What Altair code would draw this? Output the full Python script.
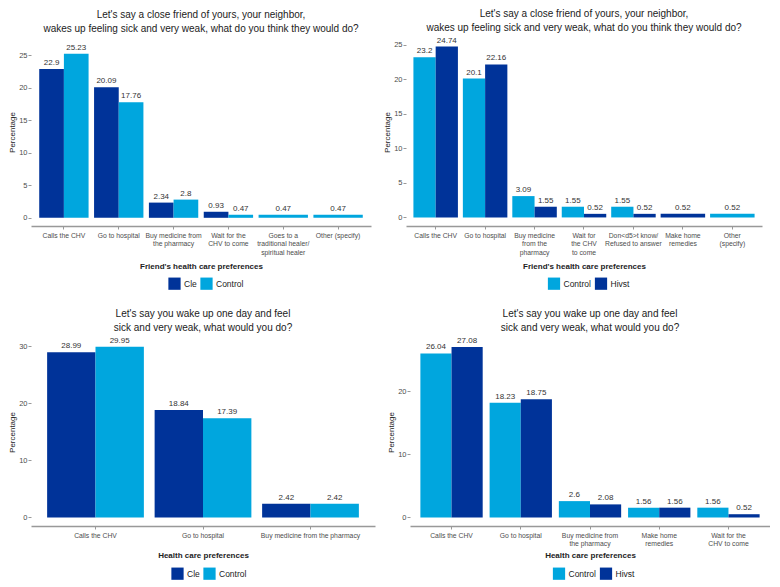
import altair as alt
import pandas as pd

DARK = "#003399"
LIGHT = "#00A6DE"
FONT = "Liberation Sans"

# ---- data ----
p1_title = ["Let's say a close friend of yours, your neighbor,",
            "wakes up feeling sick and very weak, what do you think they would do?"]
p1_categories = ["Calls the CHV", "Go to hospital", "Buy medicine from|the pharmacy",
                 "Wait for the|CHV to come", "Goes to a|traditional healer/|spiritual healer",
                 "Other (specify)"]
p1_groups = ["Cle", "Control"]
p1_cle = [22.9, 20.09, 2.34, 0.93, None, None]
p1_control = [25.23, 17.76, 2.8, 0.47, 0.47, 0.47]

p2_title = p1_title
p2_categories = ["Calls the CHV", "Go to hospital", "Buy medicine|from the|pharmacy",
                 "Wait for|the CHV|to come", "Don<d5>t know/|Refused to answer",
                 "Make home|remedies", "Other|(specify)"]
p2_groups = ["Control", "Hivst"]
p2_control = [23.2, 20.1, 3.09, 1.55, 1.55, None, 0.52]
p2_hivst = [24.74, 22.16, 1.55, 0.52, 0.52, 0.52, None]

p3_title = ["Let's say you wake up one day and feel", "sick and very weak, what would you do?"]
p3_categories = ["Calls the CHV", "Go to hospital", "Buy medicine from the pharmacy"]
p3_groups = ["Cle", "Control"]
p3_cle = [28.99, 18.84, 2.42]
p3_control = [29.95, 17.39, 2.42]

p4_title = p3_title
p4_categories = ["Calls the CHV", "Go to hospital", "Buy medicine from|the pharmacy",
                 "Make home|remedies", "Wait for the|CHV to come"]
p4_groups = ["Control", "Hivst"]
p4_control = [26.04, 18.23, 2.6, 1.56, 1.56]
p4_hivst = [27.08, 18.75, 2.08, 1.56, 0.52]


def make_frame(categories, groups):
    rows = []
    for i, cat in enumerate(categories):
        present = [(g, vals[i]) for g, vals in groups if vals[i] is not None]
        for g, v in present:
            rows.append({"cat": cat, "group": g, "value": v,
                         "paired": len(present) > 1, "label": f"{v:g}"})
    return pd.DataFrame(rows)


def panel(df, categories, group_order, colors, title, xtitle, ydomain, yticks,
          width, height, xtitle_pad, legend_x, legend_y):
    x = alt.X("cat:N", sort=categories,
              scale=alt.Scale(domain=categories, paddingInner=0.1, paddingOuter=0.15),
              axis=alt.Axis(title=xtitle, labelExpr="split(datum.label, '|')",
                            labelAngle=0, labelLimit=300, labelFontSize=6.8,
                            labelLineHeight=8.5, labelColor="#4d4d4d", labelPadding=3,
                            labelFont=FONT, tickColor="#999999", tickSize=3,
                            domainColor="#999999", domainWidth=1.6,
                            titleFont=FONT, titleFontSize=8, titleFontWeight="bold",
                            titleColor="#222222", titlePadding=xtitle_pad))
    y = alt.Y("value:Q",
              scale=alt.Scale(domain=ydomain, nice=False, zero=False),
              axis=alt.Axis(title="Percentage", values=yticks, domain=False, grid=False,
                            tickColor="#999999", tickSize=3, labelPadding=1,
                            labelFontSize=7.5, labelColor="#4d4d4d", labelFont=FONT,
                            titleFont=FONT, titleFontSize=8, titleFontWeight="normal",
                            titleColor="#222222", titlePadding=2))
    color = alt.Color("group:N", scale=alt.Scale(domain=group_order, range=colors),
                      legend=alt.Legend(orient="none", legendX=legend_x, legendY=legend_y,
                                        direction="horizontal", title=None,
                                        symbolType="square",
                                        symbolSize=150, symbolStrokeWidth=0,
                                        symbolOpacity=1, labelFont=FONT,
                                        labelFontSize=8.5, labelColor="#222222",
                                        columnPadding=3, labelOffset=3))
    xoff = alt.XOffset("group:N", sort=group_order,
                       scale=alt.Scale(domain=group_order, paddingInner=0, paddingOuter=0))
    base = alt.Chart(df)
    paired = base.transform_filter("datum.paired")
    single = base.transform_filter("!datum.paired")
    txt = dict(baseline="bottom", dy=-2, fontSize=8, font=FONT, color="#333333")
    bars_p = paired.mark_bar().encode(x=x, xOffset=xoff, y=y, y2=alt.datum(0), color=color)
    text_p = paired.mark_text(**txt).encode(x=x, xOffset=xoff, y=y, text="label:N")
    bars_s = single.mark_bar().encode(x=x, y=y, y2=alt.datum(0), color=color)
    text_s = single.mark_text(**txt).encode(x=x, y=y, text="label:N")
    return alt.layer(bars_p, text_p, bars_s, text_s).properties(
        width=width, height=height,
        title=alt.TitleParams(title, font=FONT, fontSize=10, fontWeight="normal",
                              color="#222222", lineHeight=14, anchor="middle", offset=4))


df1 = make_frame(p1_categories, [("Cle", p1_cle), ("Control", p1_control)])
df2 = make_frame(p2_categories, [("Control", p2_control), ("Hivst", p2_hivst)])
df3 = make_frame(p3_categories, [("Cle", p3_cle), ("Control", p3_control)])
df4 = make_frame(p4_categories, [("Control", p4_control), ("Hivst", p4_hivst)])

W1, W2, W3, W4 = 340, 356, 344, 360
c1 = panel(df1, p1_categories, p1_groups, [DARK, LIGHT], p1_title,
           "Friend's health care preferences", [-1.26, 27.66], [0, 5, 10, 15, 20, 25],
           W1, 188, 7, W1 / 2 - 33, 239)
c2 = panel(df2, p2_categories, p2_groups, [LIGHT, DARK], p2_title,
           "Friend's health care preferences", [-1.24, 25.98], [0, 5, 10, 15, 20, 25],
           W2, 188, 7, W2 / 2 - 36.5, 239)
c3 = panel(df3, p3_categories, p3_groups, [DARK, LIGHT], p3_title,
           "Health care preferences", [-1.5, 31.48], [0, 10, 20, 30],
           W3, 188, 13, W3 / 2 - 32, 229)
c4 = panel(df4, p4_categories, p4_groups, [LIGHT, DARK], p4_title,
           "Health care preferences", [-1.35, 28.49], [0, 10, 20],
           W4, 188, 4, W4 / 2 - 37.5, 229)

top = alt.hconcat(c1, c2, spacing=12).resolve_scale(
    x="independent", y="independent", color="independent", xOffset="independent"
).resolve_legend(color="independent")
bottom = alt.hconcat(c3, c4, spacing=12).resolve_scale(
    x="independent", y="independent", color="independent", xOffset="independent"
).resolve_legend(color="independent")

chart = alt.vconcat(top, bottom, spacing=18).resolve_scale(
    x="independent", y="independent", color="independent", xOffset="independent"
).resolve_legend(color="independent").properties(
    padding={"left": 0, "top": 0, "right": 0, "bottom": 0},
    background="white"
).configure_view(strokeWidth=0, stroke="transparent")

chart.save("out.html", embed_options={"renderer": "svg", "actions": False})
